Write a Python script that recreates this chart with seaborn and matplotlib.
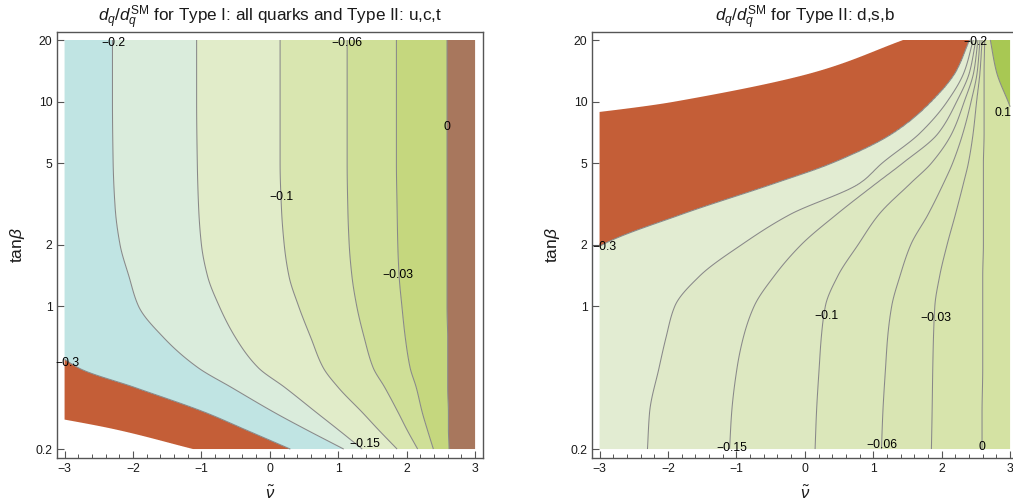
import numpy as np
import matplotlib
matplotlib.use("Agg")
import matplotlib.pyplot as plt
from matplotlib.ticker import NullLocator, FixedLocator, MultipleLocator
import seaborn as sns

nan = np.nan

# ---------------- values ----------------
# Left panel: Type I (all quarks) and Type II (u,c,t)
left_levels = [-0.3, -0.2, -0.15, -0.1, -0.06, -0.03, 0.0]
left_clip = -0.4          # below this Mathematica left the region blank
left_tanb = [0.2, 0.25, 0.3, 0.4, 0.5, 0.7, 1.0, 1.4, 2.0, 3.0, 5.0, 10.0, 20.0]
left_z_at_xmin = [-0.48, -0.43, -0.38, -0.33, -0.305, -0.28, -0.26, -0.25, -0.24, -0.235, -0.23, -0.23, -0.23]
left_z_at_xmax = [0.03, 0.03, 0.03, 0.03, 0.03, 0.03, 0.03, 0.03, 0.03, 0.03, 0.03, 0.03, 0.03]
# nu-tilde position where each contour crosses the tan(beta) row
left_x_clip = [-1.12, -2.27, nan, nan, nan, nan, nan, nan, nan, nan, nan, nan, nan]
left_x_m030 = [0.30, -0.37, -0.92, -1.97, -2.80, nan, nan, nan, nan, nan, nan, nan, nan]
left_x_m020 = [1.08, 0.52, 0.08, -0.56, -1.05, -1.55, -1.92, -2.06, -2.19, -2.26, -2.29, -2.30, -2.30]
left_x_m015 = [1.35, 0.99, 0.69, 0.22, -0.17, -0.50, -0.74, -0.91, -1.00, -1.04, -1.06, -1.07, -1.07]
left_x_m010 = [1.86, 1.58, 1.36, 1.00, 0.78, 0.60, 0.42, 0.28, 0.21, 0.17, 0.15, 0.15, 0.15]
left_x_m006 = [2.16, 2.00, 1.88, 1.68, 1.51, 1.38, 1.27, 1.20, 1.16, 1.14, 1.13, 1.13, 1.13]
left_x_m003 = [2.39, 2.30, 2.23, 2.14, 2.05, 1.98, 1.93, 1.89, 1.87, 1.86, 1.85, 1.85, 1.85]
left_x_0 = [2.62, 2.61, 2.61, 2.60, 2.60, 2.60, 2.59, 2.59, 2.59, 2.59, 2.59, 2.59, 2.59]

# Right panel: Type II (d,s,b)
right_levels = [-0.3, -0.2, -0.15, -0.1, -0.06, -0.03, 0.0, 0.1]
right_clip = -0.45
right_tanb = [0.2, 0.3, 0.5, 0.7, 1.0, 1.4, 2.0, 2.8, 4.0, 5.0, 7.0, 10.0, 14.0, 20.0]
right_z_at_xmin = [-0.23, -0.232, -0.238, -0.245, -0.255, -0.27, -0.302, -0.34, -0.37, -0.38, -0.40, -0.50, -0.60, -0.70]
right_z_at_xmax = [0.015, 0.015, 0.016, 0.017, 0.018, 0.02, 0.022, 0.026, 0.035, 0.045, 0.07, 0.105, 0.2, 0.3]
right_x_clip = [nan, nan, nan, nan, nan, nan, nan, nan, nan, nan, nan, -1.90, 0.17, 1.44]
right_x_m030 = [nan, nan, nan, nan, nan, nan, -2.95, -1.81, -0.42, 0.40, 1.29, 1.85, 2.21, 2.41]
right_x_m020 = [-2.30, -2.27, -2.13, -2.03, -1.90, -1.54, -0.92, -0.22, 0.81, 1.13, 1.68, 2.08, 2.33, 2.46]
right_x_m015 = [-1.10, -1.07, -0.99, -0.90, -0.74, -0.45, -0.05, 0.46, 1.05, 1.43, 1.95, 2.22, 2.41, 2.50]
right_x_m010 = [0.15, 0.17, 0.21, 0.24, 0.30, 0.48, 0.78, 1.08, 1.55, 1.85, 2.15, 2.33, 2.47, 2.53]
right_x_m006 = [1.12, 1.14, 1.18, 1.21, 1.27, 1.39, 1.55, 1.80, 2.03, 2.16, 2.31, 2.43, 2.52, 2.56]
right_x_m003 = [1.85, 1.86, 1.87, 1.88, 1.90, 1.97, 2.08, 2.20, 2.32, 2.39, 2.46, 2.51, 2.56, 2.59]
right_x_0 = [2.59, 2.59, 2.60, 2.60, 2.60, 2.60, 2.61, 2.61, 2.61, 2.61, 2.62, 2.62, 2.62, 2.63]
right_x_p010 = [nan, nan, nan, nan, nan, nan, nan, nan, nan, nan, nan, 2.97, 2.80, 2.71]

x_ticks = [-3, -2, -1, 0, 1, 2, 3]
y_ticks = [0.2, 1, 2, 5, 10, 20]
y_ticklabels = ["0.2", "1", "2", "5", "10", "20"]

left_title = r"$d_q/d_q^{\mathrm{SM}}$ for Type I: all quarks and Type II: u,c,t"
right_title = r"$d_q/d_q^{\mathrm{SM}}$ for Type II: d,s,b"

# ---------------- style ----------------
sns.set_theme(style="white")
plt.rcParams["font.family"] = ["Liberation Sans", "DejaVu Sans"]
plt.rcParams["mathtext.fontset"] = "custom"
plt.rcParams["mathtext.rm"] = "Liberation Sans"
plt.rcParams["mathtext.it"] = "Liberation Sans:italic"
plt.rcParams["mathtext.bf"] = "Liberation Sans:bold"
plt.rcParams["axes.unicode_minus"] = True

left_colors = sns.color_palette(["#c45e37", "#c0e4e3", "#daecdc", "#e1ecc9",
                                 "#d9e6b0", "#cfdf97", "#c5d77e", "#a8775d"])
right_colors = sns.color_palette(["#c45e37", "#e2ecd2", "#dfe9c8", "#dde8c1", "#dbe7ba",
                                  "#d9e5b3", "#d7e4ac", "#d4e2a3", "#a8c853"])
FRAME = "#555555"
LINE = "#888888"


def row_x_of_z(kx, kz, zg):
    """Inverse of a monotone row profile, linearly extended past both edges."""
    x = np.interp(zg, kz, kx)
    lo = zg < kz[0]
    hi = zg > kz[-1]
    s0 = (kx[1] - kx[0]) / (kz[1] - kz[0])
    s1 = (kx[-1] - kx[-2]) / (kz[-1] - kz[-2])
    x[lo] = kx[0] + (zg[lo] - kz[0]) * s0
    x[hi] = kx[-1] + (zg[hi] - kz[-1]) * s1
    return x


def pchip_slopes(h, y):
    """Fritsch-Carlson slopes for rows y (n, m) over spacings h (n-1)."""
    n = y.shape[0]
    d = (y[1:] - y[:-1]) / h[:, None]
    m = np.zeros_like(y)
    for k in range(1, n - 1):
        w1 = 2 * h[k] + h[k - 1]
        w2 = h[k] + 2 * h[k - 1]
        a, b = d[k - 1], d[k]
        same = (a * b) > 0
        with np.errstate(divide="ignore", invalid="ignore"):
            hm = (w1 + w2) / (w1 / a + w2 / b)
        m[k] = np.where(same, hm, 0.0)
    m[0] = d[0]
    m[-1] = d[-1]
    return m


def build_field(tanb, z_lo, z_hi, crossings, nx=601, nt=700):
    xs = np.linspace(-3, 3, nx)
    zg = np.linspace(-1.5, 1.0, 2501)
    inv_rows = []
    for i in range(len(tanb)):
        kx, kz = [-3.0], [z_lo[i]]
        for lev, arr in crossings:
            if not np.isnan(arr[i]):
                kx.append(arr[i])
                kz.append(lev)
        kx.append(3.0)
        kz.append(z_hi[i])
        order = np.argsort(kx)
        inv_rows.append(row_x_of_z(np.array(kx)[order], np.array(kz)[order], zg))
    inv_rows = np.array(inv_rows)
    lt = np.log10(tanb)
    h = np.diff(lt)
    m = pchip_slopes(h, inv_rows)
    ts = np.linspace(lt[0], lt[-1], nt)
    Z = np.empty((nt, nx))
    for k, t in enumerate(ts):
        i = min(np.searchsorted(lt, t, side="right") - 1, len(lt) - 2)
        s = (t - lt[i]) / h[i]
        h00 = 2 * s**3 - 3 * s**2 + 1
        h10 = s**3 - 2 * s**2 + s
        h01 = -2 * s**3 + 3 * s**2
        h11 = s**3 - s**2
        xz = (h00 * inv_rows[i] + h10 * h[i] * m[i]
              + h01 * inv_rows[i + 1] + h11 * h[i] * m[i + 1])
        xz = np.maximum.accumulate(xz + np.arange(xz.size) * 1e-9)
        Z[k] = np.interp(xs, xz, zg)
    return xs, 10 ** ts, Z


def fmt(v):
    if v == 0:
        return "0"
    s = ("%g" % abs(v))
    return ("\u2212" + s) if v < 0 else s


def draw(ax, xs, ts, Z, clip, levels, colors, labels, title):
    fill_levels = [clip] + levels + [10.0]
    ax.contourf(xs, ts, Z, levels=fill_levels, colors=colors, antialiased=True)
    ax.contour(xs, ts, Z, levels=levels, colors=LINE, linewidths=0.75,
               linestyles="solid")
    ax.set_yscale("log")
    ax.set_xlim(-3.115, 3.12)
    ax.set_ylim(0.1814, 21.96)
    ax.xaxis.set_major_locator(FixedLocator(x_ticks))
    ax.xaxis.set_minor_locator(MultipleLocator(0.2))
    ax.yaxis.set_major_locator(FixedLocator(y_ticks))
    ax.yaxis.set_minor_locator(NullLocator())
    ax.set_yticklabels(y_ticklabels)
    ax.set_xticklabels([fmt(v) for v in x_ticks])
    ax.tick_params(which="major", direction="in", length=5, width=0.8, color=FRAME,
                   labelsize=8.8, labelcolor="#1a1a1a", pad=4,
                   bottom=True, left=True, top=False, right=False)
    ax.tick_params(axis="y", pad=3)
    ax.tick_params(which="minor", direction="in", length=2.6, width=0.7, color=FRAME,
                   bottom=True, left=False, top=False, right=False)
    for sp in ax.spines.values():
        sp.set_color(FRAME)
        sp.set_linewidth(1.0)
    ax.set_xlabel(r"$\tilde{\nu}$", fontsize=12, labelpad=7, color="#1a1a1a")
    ax.set_ylabel(r"$\mathrm{tan}\beta$", fontsize=12.5, labelpad=6, color="#1a1a1a")
    ax.set_title(title, fontsize=12.3, pad=7, color="#1a1a1a")
    for lev, lx, ly, ha in labels:
        ax.text(lx, ly, fmt(lev), fontsize=8.8, ha=ha, va="center",
                color="black", zorder=5)


fig = plt.figure(figsize=(10.13, 5.03), dpi=100)
ax1 = fig.add_axes([56.7 / 1013, 45.3 / 503, 426.6 / 1013, 426 / 503])
ax2 = fig.add_axes([591.7 / 1013, 45.3 / 503, 426.6 / 1013, 426 / 503])

left_cross = [(left_clip, left_x_clip), (-0.3, left_x_m030), (-0.2, left_x_m020),
              (-0.15, left_x_m015), (-0.1, left_x_m010), (-0.06, left_x_m006),
              (-0.03, left_x_m003), (0.0, left_x_0)]
right_cross = [(right_clip, right_x_clip), (-0.3, right_x_m030), (-0.2, right_x_m020),
               (-0.15, right_x_m015), (-0.1, right_x_m010), (-0.06, right_x_m006),
               (-0.03, right_x_m003), (0.0, right_x_0), (0.1, right_x_p010)]

xs, ts, ZL = build_field(left_tanb, left_z_at_xmin, left_z_at_xmax, left_cross)
draw(ax1, xs, ts, ZL, left_clip, left_levels, left_colors,
     [(-0.2, -2.28, 19.3, "center"), (-0.06, 1.12, 19.3, "center"),
      (0.0, 2.59, 7.5, "center"), (-0.1, 0.17, 3.43, "center"),
      (-0.03, 1.87, 1.42, "center"), (-0.3, -2.96, 0.527, "center"),
      (-0.15, 1.39, 0.211, "center")], left_title)

xs, ts, ZR = build_field(right_tanb, right_z_at_xmin, right_z_at_xmax, right_cross)
draw(ax2, xs, ts, ZR, right_clip, right_levels, right_colors,
     [(-0.2, 2.5, 19.6, "center"), (0.1, 3.015, 8.8, "right"),
      (-0.3, -2.93, 1.95, "center"), (-0.1, 0.31, 0.89, "center"),
      (-0.03, 1.92, 0.875, "center"), (-0.15, -1.07, 0.203, "center"),
      (-0.06, 1.12, 0.21, "center"), (0.0, 2.59, 0.205, "center")],
     right_title)

fig.savefig("out.png", dpi=100)
